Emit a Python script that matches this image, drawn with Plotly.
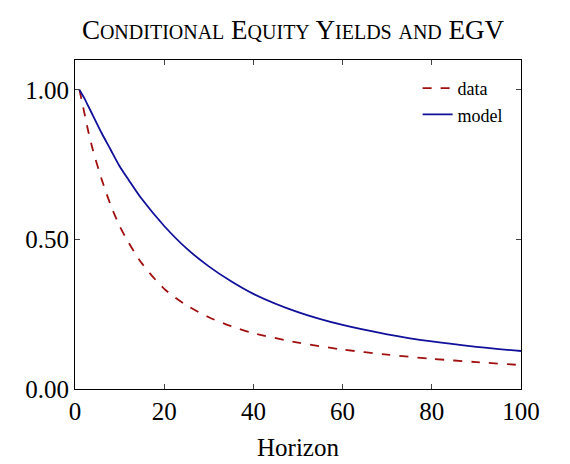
import plotly.graph_objects as go

horizon = [1, 2, 3, 4, 6, 8, 10, 12, 15, 20, 25, 30, 35, 40, 50, 60, 70, 80, 90, 100]
data_vals = [1.0, 0.93, 0.86, 0.80, 0.70, 0.615, 0.545, 0.49, 0.42, 0.335, 0.28, 0.24, 0.21, 0.187, 0.155, 0.132, 0.115, 0.101, 0.09, 0.08]
model_vals = [1.0, 0.975, 0.945, 0.915, 0.855, 0.80, 0.745, 0.70, 0.635, 0.545, 0.47, 0.41, 0.36, 0.318, 0.257, 0.214, 0.183, 0.159, 0.141, 0.127]

def sc(text, small=20):
    out = []
    for w in text.split(" "):
        if w.islower():
            out.append(f"<span style='font-size:{small}px'>{w.upper()}</span>")
        else:
            out.append(w[0] + f"<span style='font-size:{small}px'>{w[1:].upper()}</span>")
    return " ".join(out)

fig = go.Figure()
fig.add_trace(go.Scatter(x=horizon, y=data_vals, mode="lines", name="data",
                         line=dict(color="#a01010", dash="dash", width=1.8, shape="spline", smoothing=0.8)))
fig.add_trace(go.Scatter(x=horizon, y=model_vals, mode="lines", name="model",
                         line=dict(color="#10109a", width=1.8, shape="spline", smoothing=0.8)))
font = "Liberation Serif, DejaVu Serif, serif"
fig.update_layout(
    width=570, height=464, paper_bgcolor="white", plot_bgcolor="white",
    margin=dict(l=67, r=57, t=52, b=83),
    font=dict(family=font, size=25, color="black"),
    title=dict(text="C" + sc("onditional") + " E" + sc("quity") + " Y" + sc("ields") + " " + sc("and") + " EGV",
               x=0.5, xanchor="center", y=0.975, yanchor="top", font=dict(size=27)),
    legend=dict(x=0.97, y=0.97, xanchor="right", yanchor="top", bgcolor="rgba(0,0,0,0)",
                font=dict(size=18), tracegroupgap=0),
    showlegend=True,
)
fig.update_xaxes(range=[0, 100], tickvals=[0, 20, 40, 60, 80, 100], ticks="inside", ticklen=5,
                 showline=True, linecolor="black", linewidth=1, mirror="ticks", showgrid=False,
                 zeroline=False, title=dict(text="Horizon", standoff=14, font=dict(size=25)),
                 tickfont=dict(size=25))
fig.update_yaxes(range=[0, 1.1], tickvals=[0, 0.5, 1.0], ticktext=["0.00", "0.50", "1.00"],
                 ticks="inside", ticklen=5, showline=True, linecolor="black", linewidth=1,
                 mirror="ticks", showgrid=False, zeroline=False, tickfont=dict(size=25))
fig.write_html("out.html")
